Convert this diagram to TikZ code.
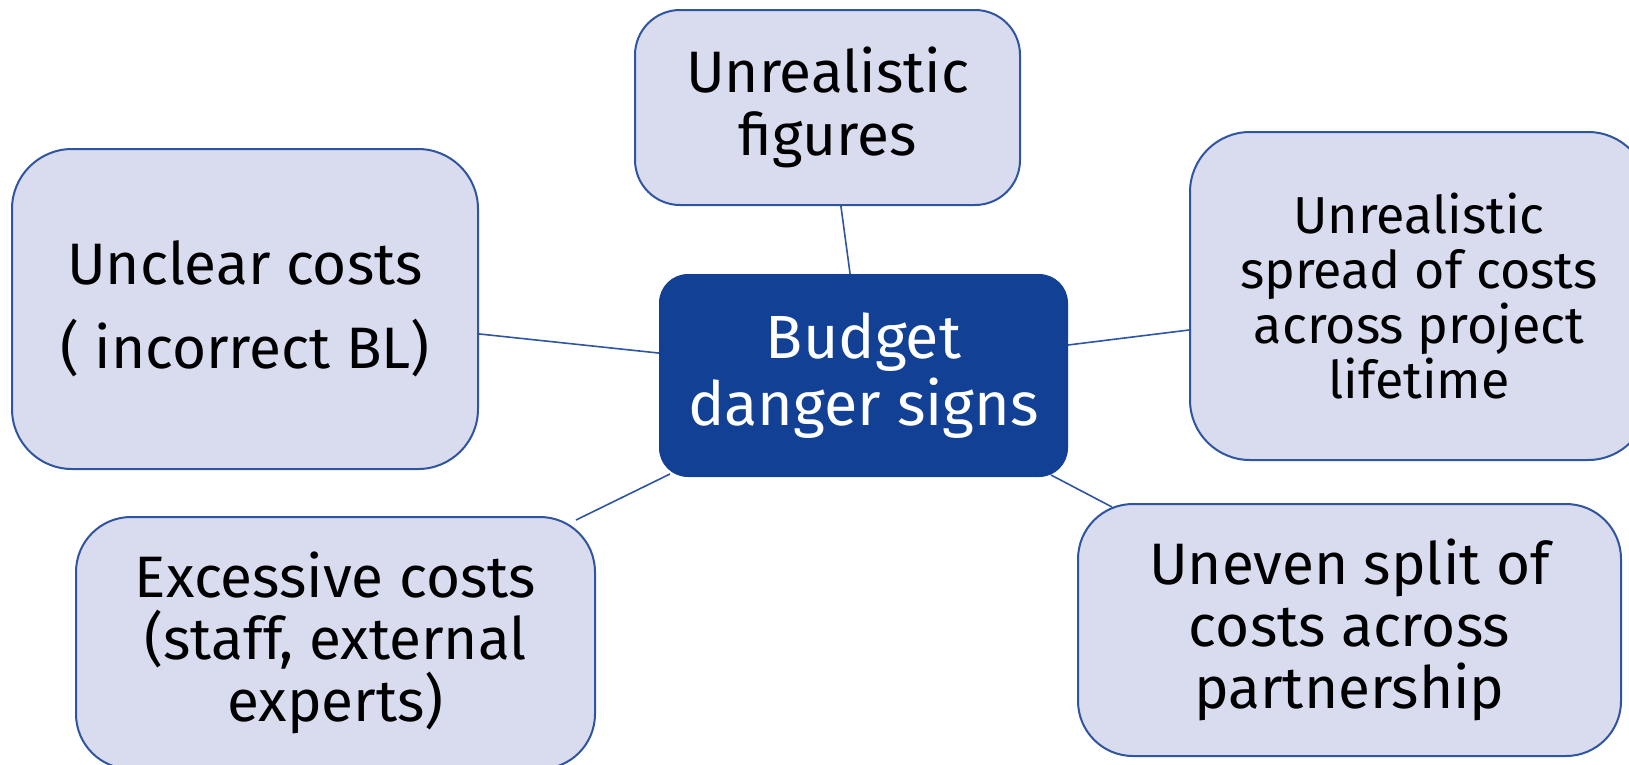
\documentclass[tikz,border=0pt]{standalone}
\usepackage{fontspec}
\setmainfont{Fira Sans}
\usetikzlibrary{backgrounds}
\definecolor{boxfill}{RGB}{217,220,239}
\definecolor{boxline}{RGB}{47,84,160}
\definecolor{hubfill}{RGB}{17,64,148}
\tikzset{
  leaf/.style={draw=boxline, line width=2pt, fill=boxfill, align=center,
    inner sep=0pt, text=black},
  hub/.style={draw=hubfill, line width=2pt, fill=hubfill, align=center,
    inner sep=0pt, text=white, rounded corners=28pt,
    minimum width=407pt, minimum height=201pt,
    font=\fontsize{61}{67}\selectfont},
  link/.style={draw=boxline, line width=1.6pt}
}
\begin{document}
\begin{tikzpicture}[x=1pt,y=-1pt]
\useasboundingbox (0,0) rectangle (1629,764);

% central topic
\node[hub] (hub) at (863.5,375.5) {Budget\\danger signs};

% surrounding warning signs
\node[leaf, rounded corners=45pt, minimum width=385pt, minimum height=195pt,
  font=\fontsize{58.5}{63}\selectfont] (top) at (827.5,107.5)
  {Unrealistic\\figures};
\node[leaf, rounded corners=60pt, minimum width=466pt, minimum height=320pt,
  font=\fontsize{58.5}{63}\selectfont] (left) at (245,309)
  {Unclear costs\\[21pt]( incorrect BL)};
\node[leaf, rounded corners=60pt, minimum width=458pt, minimum height=328pt,
  font=\fontsize{52}{55}\selectfont] (right) at (1419,296)
  {Unrealistic\\spread of costs\\across project\\lifetime};
\node[leaf, rounded corners=55pt, minimum width=519pt, minimum height=252pt,
  font=\fontsize{58.5}{62}\selectfont] (bl) at (335.5,643)
  {Excessive costs\\(staff, external\\experts)};
\node[leaf, rounded corners=55pt, minimum width=543pt, minimum height=252pt,
  font=\fontsize{58.5}{62}\selectfont] (br) at (1349.5,630)
  {Uneven split of\\costs across\\partnership};

% connectors, drawn behind the boxes so the fills trim their ends
\begin{scope}[on background layer]
  \draw[link] ([xshift=13pt,yshift=3pt]top.south) -- ([xshift=-13pt,yshift=-3pt]hub.north);
  \draw[link] ([xshift=-4pt,yshift=-24.5pt]left.east) -- ([xshift=4pt,yshift=22pt]hub.west);
  \draw[link] ([xshift=-4pt,yshift=30pt]hub.east) -- ([xshift=4pt,yshift=-33.5pt]right.west);
  \draw[link] ([xshift=-20pt,yshift=-4pt]bl.north east) -- ([xshift=11pt,yshift=3pt]hub.south west);
  \draw[link] ([xshift=-17pt,yshift=2pt]hub.south east) -- ([xshift=35pt,yshift=-4pt]br.north west);
\end{scope}
\end{tikzpicture}
\end{document}
